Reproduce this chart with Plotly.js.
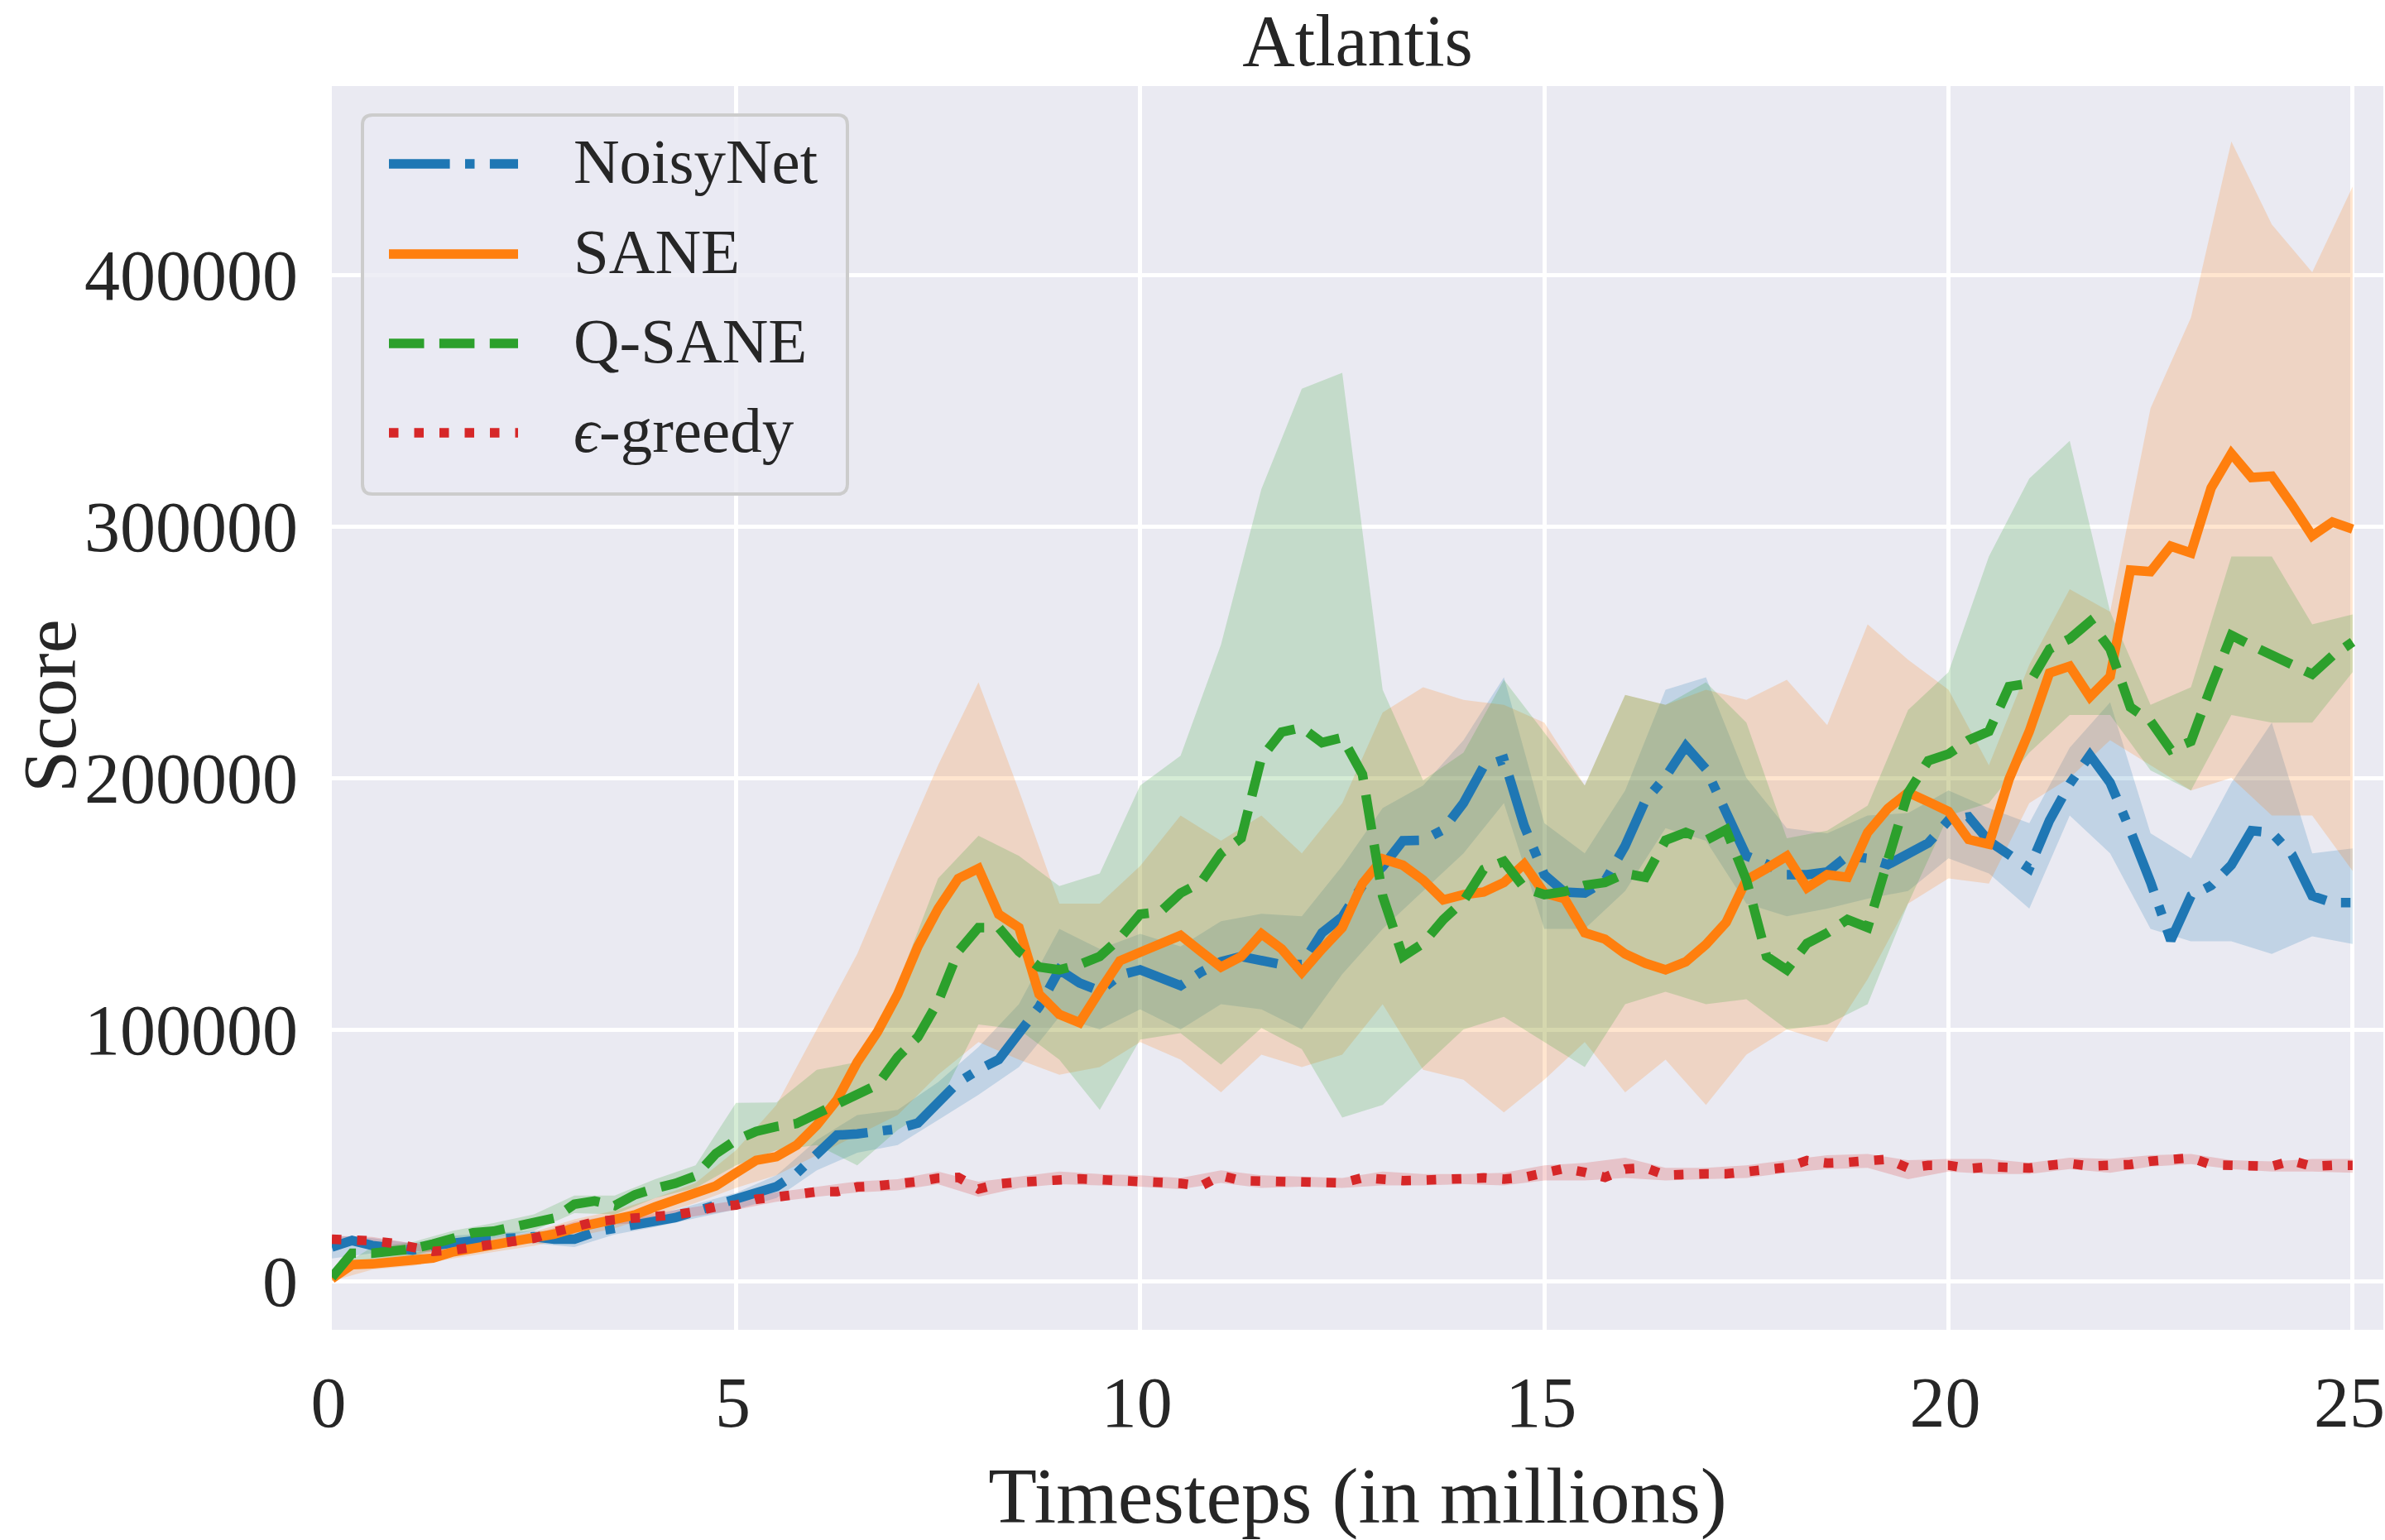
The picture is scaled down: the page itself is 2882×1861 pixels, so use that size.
<!DOCTYPE html>
<html>
<head>
<meta charset="utf-8">
<script src="https://cdn.plot.ly/plotly-3.0.1.min.js"></script>
<style>html,body{margin:0;padding:0;background:#fff;}</style>
</head>
<body>
<div id="plot_atlantis" style="width:2882px;height:1861px;"></div>
<script>
// timesteps (millions) for the mean curves
var steps = [0, 0.25, 0.5, 0.75, 1, 1.25, 1.5, 1.75, 2, 2.25, 2.5, 2.75, 3, 3.25, 3.5, 3.75,
  4, 4.25, 4.5, 4.75, 5, 5.25, 5.5, 5.75, 6, 6.25, 6.5, 6.75, 7, 7.25, 7.5, 7.75,
  8, 8.25, 8.5, 8.75, 9, 9.25, 9.5, 9.75, 10, 10.25, 10.5, 10.75, 11, 11.25, 11.5, 11.75,
  12, 12.25, 12.5, 12.75, 13, 13.25, 13.5, 13.75, 14, 14.25, 14.5, 14.75, 15, 15.25, 15.5, 15.75,
  16, 16.25, 16.5, 16.75, 17, 17.25, 17.5, 17.75, 18, 18.25, 18.5, 18.75, 19, 19.25, 19.5, 19.75,
  20, 20.25, 20.5, 20.75, 21, 21.25, 21.5, 21.75, 22, 22.25, 22.5, 22.75, 23, 23.25, 23.5, 23.75,
  24, 24.25, 24.5, 24.75, 25];

// timesteps for the shaded bands
var bandSteps = [0, 0.5, 1, 1.5, 2, 2.5, 3, 3.5, 4, 4.5, 5, 5.5, 6, 6.5, 7, 7.5, 8, 8.5, 9, 9.5,
  10, 10.5, 11, 11.5, 12, 12.5, 13, 13.5, 14, 14.5, 15, 15.5, 16, 16.5, 17, 17.5, 18, 18.5, 19, 19.5,
  20, 20.5, 21, 21.5, 22, 22.5, 23, 23.5, 24, 24.5, 25];

var noisyNet = [13500, 16100, 14100, 13500, 12300, 14100, 15400, 16000, 16600, 17400, 17600, 16600,
  16600, 19500, 21000, 21700, 23700, 25200, 27700, 30200, 31800, 34300, 37500, 42800,
  50000, 58000, 58500, 59500, 60500, 62800, 71000, 79000, 84000, 88000, 98500, 109000,
  123700, 118500, 115300, 121600, 123700, 120600, 117400, 122700, 126900, 129000, 127000, 125800,
  125800, 138400, 144700, 157300, 164700, 175000, 175200, 179400, 190000, 204600, 207300, 181000,
  161500, 154600, 154200, 159000, 173000, 191000, 200400, 212600, 203500, 186700, 169000, 165700,
  161500, 161500, 162600, 169000, 168000, 165500, 170000, 174100, 183100, 184500, 174900, 169500,
  164000, 183100, 197600, 209000, 198100, 179000, 158600, 135400, 153100, 157200, 165400, 179000,
  178200, 169500, 153100, 150400, 150400];

var sane = [900, 6500, 6800, 7600, 8400, 9100, 11600, 12900, 14100, 16000, 16600, 18600,
  21000, 23000, 24400, 26300, 29500, 32600, 34700, 37800, 43000, 48000, 49400, 54000,
  62000, 72000, 87000, 99000, 114000, 133000, 148000, 160000, 164000, 145800, 140500, 114000,
  106000, 102700, 115300, 127300, 130700, 133600, 137400, 131000, 124800, 129000, 138000, 132000,
  122700, 132000, 140500, 158000, 167800, 165300, 159400, 151500, 153600, 154600, 158400, 165700,
  154200, 152000, 138400, 135900, 130000, 126300, 123700, 126900, 133800, 142600, 159400, 164000,
  168900, 156300, 161500, 160500, 178300, 187800, 194200, 190500, 186700, 175500, 173600, 199500,
  218500, 241700, 244400, 232200, 240300, 282600, 282000, 292100, 289400, 315300, 328900, 319400,
  319900, 308500, 296200, 301700, 298900];

var qSane = [1500, 11000, 11000, 11600, 12800, 14700, 17300, 19200, 19800, 21700, 23000, 25000,
  30500, 31800, 30000, 34300, 36800, 38800, 41800, 50600, 56000, 59500, 61400, 62600,
  66500, 70000, 74000, 78000, 89000, 97000, 111000, 131000, 140500, 140500, 131000, 124800,
  123700, 125800, 129000, 136300, 145800, 146800, 154200, 158400, 170000, 176000, 208000, 218200,
  220000, 214000, 216000, 201400, 153000, 129000, 134200, 143700, 151000, 163600, 166800, 156300,
  153600, 154800, 157300, 158400, 162000, 160500, 175200, 178300, 175200, 179400, 159400, 129000,
  123700, 134200, 138400, 143700, 140500, 166000, 194000, 206800, 209500, 215000, 218500, 236300,
  237600, 251200, 255300, 262100, 251200, 228100, 222600, 211200, 214500, 236300, 256700, 252600,
  248500, 245000, 241200, 248500, 254000];

var epsGreedy = [16600, 16600, 16000, 15000, 13500, 11800, 12300, 13500, 14700, 16000, 17000, 19500,
  21700, 23500, 24400, 25000, 25100, 26300, 27600, 29500, 30200, 32500, 33400, 34900,
  35500, 35500, 37400, 37800, 38300, 39500, 40900, 41200, 36600, 38600, 39300, 39900,
  40900, 40600, 40300, 39900, 39900, 39700, 38800, 37700, 41900, 39900, 39700, 39300,
  39600, 39400, 39000, 41000, 40300, 39900, 40100, 40000, 40700, 41000, 40500, 41200,
  42700, 44700, 43200, 41200, 44500, 45000, 42100, 42600, 42600, 42600, 43400, 43900,
  45200, 47900, 46900, 47200, 47600, 48400, 44900, 46000, 46000, 44700, 45400, 45400,
  44900, 46000, 46700, 45700, 45700, 46300, 47600, 47900, 49000, 46200, 46200, 46000,
  45600, 47800, 45600, 46000, 46000];

// band edges (one value per bandSteps entry)
var noisyNetLow = [9000, 11000, 10000, 13000, 14500, 15000, 13500, 18500, 21500, 25000,
  28500, 33000, 44000, 51000, 54000, 64000, 74000, 85000, 105000, 100000,
  108000, 100000, 110000, 108000, 100000, 122000, 140000, 155000, 170000, 190000,
  140000, 140000, 155000, 180000, 175000, 150000, 145000, 148000, 152000, 155000,
  168000, 162000, 148000, 185000, 170000, 140000, 135000, 135000, 130000, 137000, 134000];
var noisyNetHigh = [18000, 17000, 15000, 18000, 19000, 20000, 19500, 24000, 26000, 30500,
  35000, 42000, 56000, 66000, 68000, 79000, 93000, 110000, 140000, 132000,
  138000, 133000, 143000, 146000, 145000, 165000, 188000, 197000, 215000, 240000,
  182000, 170000, 195000, 235000, 240000, 200000, 180000, 178000, 185000, 186000,
  195000, 188000, 182000, 212000, 230000, 178000, 168000, 198000, 222000, 170000, 172000];

var saneLow = [0, 4500, 6000, 9000, 11500, 14000, 17500, 21000, 26000, 31000,
  37000, 42000, 50000, 58000, 66000, 82000, 95000, 88000, 82000, 85000,
  95000, 88000, 75000, 90000, 85000, 90000, 110000, 84000, 80000, 67000,
  80000, 95000, 75000, 88000, 70000, 90000, 100000, 95000, 120000, 150000,
  160000, 158000, 190000, 200000, 215000, 205000, 195000, 200000, 185000, 185000, 163000];
var saneHigh = [2500, 9000, 11000, 14500, 17000, 19500, 24500, 28000, 33000, 39000,
  52000, 70000, 100000, 130000, 168000, 205000, 238000, 195000, 150000, 150000,
  165000, 185000, 175000, 185000, 170000, 190000, 226000, 236000, 231000, 229000,
  222000, 197000, 233000, 229000, 235000, 231000, 239000, 221000, 261000, 247000,
  235000, 205000, 245000, 275000, 266000, 347000, 383000, 453000, 420000, 401000, 435000];

var qSaneLow = [0, 8500, 10000, 14500, 17000, 20000, 27000, 26500, 33000, 37000,
  46000, 52000, 54000, 46000, 60000, 70000, 102000, 100000, 88000, 68000,
  96000, 98500, 86000, 100600, 92200, 65000, 70000, 85000, 100000, 105000,
  95000, 85000, 110000, 115000, 110000, 112000, 100000, 102000, 110000, 150000,
  185000, 190000, 210000, 225000, 225000, 203000, 195000, 225000, 222000, 222000, 242000];
var qSaneHigh = [3500, 13500, 15500, 20000, 23000, 26500, 34000, 34000, 40500, 46000,
  70800, 71000, 84000, 87000, 118000, 160000, 177000, 169000, 157000, 162000,
  197000, 208800, 253000, 314800, 354700, 361000, 235000, 199000, 210000, 239000,
  218000, 197000, 233000, 229000, 238000, 222000, 176000, 179000, 189000, 227000,
  242000, 288000, 319000, 334000, 266000, 229000, 236000, 288000, 288000, 261000, 265000];

var epsGreedyLow = [15000, 14500, 12000, 11000, 13200, 15500, 20000, 22500, 23300, 25800,
  28300, 31500, 33500, 35200, 36000, 38500, 33500, 37000, 38500, 38000,
  37500, 36500, 39000, 37000, 37500, 37000, 38000, 38000, 38500, 38000,
  40000, 40000, 41000, 40000, 40500, 41000, 43000, 44500, 45000, 40500,
  43500, 42500, 42500, 44500, 43000, 45500, 46500, 44500, 43500, 43500, 43000];
var epsGreedyHigh = [18000, 17500, 15000, 13800, 16200, 18500, 23500, 26300, 27000, 29500,
  32000, 35300, 37500, 39600, 40500, 43500, 39500, 41500, 43500, 42500,
  42000, 41000, 44000, 42000, 41500, 41000, 43500, 42500, 42500, 43000,
  46000, 47000, 49000, 45000, 45000, 46000, 48000, 50000, 50500, 48000,
  48500, 48500, 47000, 49000, 48500, 50000, 50500, 48000, 47500, 48500, 48500];

var seriesNames = ['NoisyNet', 'SANE', 'Q-SANE', '<i>ϵ</i>-greedy'];
var seriesColors = ['#1f77b4', '#ff7f0e', '#2ca02c', '#d62728'];
var bandColors = ['rgba(31,119,180,0.2)', 'rgba(255,127,14,0.2)', 'rgba(44,160,44,0.2)', 'rgba(214,39,40,0.2)'];
var lineW = 11.5;
var seriesDash = ['73.6px,18.4px,11.5px,18.4px', 'solid', '42.5px,18.4px', '11.5px,19px'];

var means = [noisyNet, sane, qSane, epsGreedy];
var lows = [noisyNetLow, saneLow, qSaneLow, epsGreedyLow];
var highs = [noisyNetHigh, saneHigh, qSaneHigh, epsGreedyHigh];

var data = [];
for (var i = 0; i < 4; i++) {
  data.push({
    x: bandSteps, y: lows[i], type: 'scatter', mode: 'lines',
    line: {width: 0, color: bandColors[i]}, showlegend: false, hoverinfo: 'skip'
  });
  data.push({
    x: bandSteps, y: highs[i], type: 'scatter', mode: 'lines', fill: 'tonexty',
    fillcolor: bandColors[i], line: {width: 0, color: bandColors[i]},
    showlegend: false, hoverinfo: 'skip'
  });
}
for (var j = 0; j < 4; j++) {
  data.push({
    x: steps, y: means[j], type: 'scatter', mode: 'lines', name: seriesNames[j],
    line: {color: seriesColors[j], width: lineW, dash: seriesDash[j]},
    showlegend: false
  });
}

// plot box in pixels, used to place the hand-drawn legend
var L = 401, R = 2880, T = 104, B = 1607;
function fx(p) { return (p - L) / (R - L); }
function fy(p) { return (B - p) / (B - T); }

var bx0 = 438, bx1 = 1024, by0 = 139, by1 = 597, rad = 12;
var boxPath = 'M' + fx(bx0 + rad) + ',' + fy(by0) +
  ' L' + fx(bx1 - rad) + ',' + fy(by0) +
  ' Q' + fx(bx1) + ',' + fy(by0) + ' ' + fx(bx1) + ',' + fy(by0 + rad) +
  ' L' + fx(bx1) + ',' + fy(by1 - rad) +
  ' Q' + fx(bx1) + ',' + fy(by1) + ' ' + fx(bx1 - rad) + ',' + fy(by1) +
  ' L' + fx(bx0 + rad) + ',' + fy(by1) +
  ' Q' + fx(bx0) + ',' + fy(by1) + ' ' + fx(bx0) + ',' + fy(by1 - rad) +
  ' L' + fx(bx0) + ',' + fy(by0 + rad) +
  ' Q' + fx(bx0) + ',' + fy(by0) + ' ' + fx(bx0 + rad) + ',' + fy(by0) + ' Z';

var shapes = [{
  type: 'path', xref: 'paper', yref: 'paper', path: boxPath,
  fillcolor: 'rgba(234,234,242,0.8)', line: {color: '#cccccc', width: 4}
}];
var annotations = [];
var rowY = [198, 307, 415, 523];
for (var k = 0; k < 4; k++) {
  shapes.push({
    type: 'line', xref: 'paper', yref: 'paper',
    x0: fx(470), x1: fx(626), y0: fy(rowY[k]), y1: fy(rowY[k]),
    line: {color: seriesColors[k], width: lineW, dash: seriesDash[k]}
  });
  annotations.push({
    xref: 'paper', yref: 'paper', x: fx(691), y: fy(rowY[k] - 3),
    xanchor: 'left', yanchor: 'middle', showarrow: false, text: seriesNames[k],
    font: {family: 'Liberation Serif', size: 77, color: '#262626'}
  });
}

// y axis title, placed by hand close to the left edge
annotations.push({
  xref: 'paper', yref: 'paper', x: fx(60), y: fy(854),
  xanchor: 'center', yanchor: 'middle', showarrow: false, textangle: -90,
  text: 'Score', font: {family: 'Liberation Serif', size: 92, color: '#262626'}
});

var layout = {
  width: 2882, height: 1861,
  margin: {l: L, r: 2882 - R, t: T, b: 1861 - B},
  paper_bgcolor: '#ffffff', plot_bgcolor: '#eaeaf2',
  font: {family: 'Liberation Serif', color: '#262626', size: 86},
  title: {
    text: 'Atlantis', x: 0.5, xref: 'paper', xanchor: 'center',
    y: 1 - 48 / 1861, yref: 'container', yanchor: 'middle',
    font: {family: 'Liberation Serif', size: 88, color: '#262626'}
  },
  xaxis: {
    range: [0, 25.38], tickvals: [0, 5, 10, 15, 20, 25],
    showgrid: true, gridcolor: '#ffffff', gridwidth: 5, zeroline: false,
    showline: false, ticks: '', ticklabelstandoff: 30, ticklabeloverflow: 'allow',
    ticklabelshift: -4,
    tickfont: {size: 86},
    title: {text: 'Timesteps (in millions)', standoff: 30, font: {size: 96}}
  },
  yaxis: {
    range: [-19400, 475000], tickvals: [0, 100000, 200000, 300000, 400000], tickformat: 'd',
    showgrid: true, gridcolor: '#ffffff', gridwidth: 5, zeroline: false,
    showline: false, ticks: '', ticklabelstandoff: 40,
    tickfont: {size: 86}
  },
  shapes: shapes,
  annotations: annotations,
  showlegend: false
};

var config = {responsive: false, displayModeBar: false, staticPlot: true};

Plotly.newPlot('plot_atlantis', data, layout, config);
</script>
</body>
</html>
